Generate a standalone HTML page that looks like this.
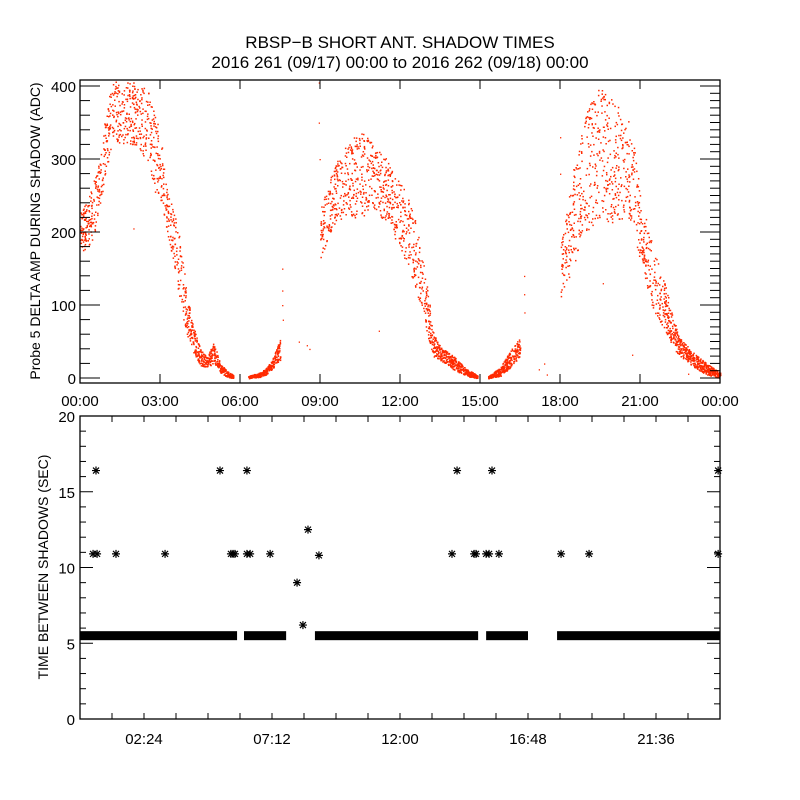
<!DOCTYPE html>
<html><head><meta charset="utf-8"><style>
html,body{margin:0;padding:0;background:#fff;}
svg{display:block;font-family:"Liberation Sans",sans-serif;}
text{fill:#000;}
</style></head><body>
<svg id="chart" width="800" height="800" viewBox="0 0 800 800">
<text x="400" y="48" font-size="17" text-anchor="middle">RBSP−B SHORT ANT. SHADOW TIMES</text>
<text x="400" y="68" font-size="17" text-anchor="middle">2016 261 (09/17) 00:00 to 2016 262 (09/18) 00:00</text>
<g id="topPanel"></g>
<g id="botPanel"></g>
<text transform="translate(40,231) rotate(-90)" font-size="14" text-anchor="middle">Probe 5 DELTA AMP DURING SHADOW (ADC)</text>
<text transform="translate(48,567) rotate(-90)" font-size="14" text-anchor="middle">TIME BETWEEN SHADOWS (SEC)</text>
</svg>
<script>
// ---- top panel data: envelope of amplitude scatter (hour, low, high) ----
const ampHours = [0,0.25,0.5,0.75,1.0,1.25,1.5,2.0,2.5,2.75,3.0,3.25,3.5,3.75,4.0,4.25,4.5,4.75,5.0,5.25,5.5,5.75,
 6.3,6.75,7.0,7.25,7.5,
 9.0,9.25,9.5,10.0,10.5,11.0,11.5,12.0,12.5,12.75,13.0,13.25,13.5,14.0,14.5,14.9,
 15.3,15.75,16.0,16.25,16.5,
 18.0,18.25,18.5,18.75,19.0,19.5,20.0,20.5,20.75,21.0,21.5,22.0,22.25,22.5,23.0,23.5,24.0];
const ampLow = [170,180,190,240,290,330,320,320,300,260,240,200,160,100,60,35,18,15,20,8,2,0,
 0,2,5,15,25,
 160,190,210,220,220,230,210,180,130,100,60,30,25,12,3,0,
 0,3,10,20,30,
 110,130,150,190,200,220,210,220,200,160,90,60,40,30,15,5,0];
const ampHigh = [230,240,270,300,380,408,408,408,400,370,340,260,230,190,120,70,40,30,50,20,10,4,
 3,8,15,30,55,
 230,260,290,320,340,320,300,270,230,180,130,60,45,30,12,5,
 3,15,30,45,55,
 180,230,290,330,370,400,380,360,330,250,180,120,80,55,35,20,8];
const segBreaks = [5.75, 7.5, 14.9, 16.5];
const strayHours = [7.58,7.58,7.58,7.6,8.2,8.5,8.6,8.95,8.95,8.98,3.8,2.0,11.2,16.65,16.65,16.66,17.5,17.2,18.0,18.0,19.6,20.7,22.8,17.4];
const strayVals  = [150,120,100,80,50,45,40,405,350,300,160,205,65,140,115,90,5,12,330,280,130,32,6,20];

// ---- bottom panel data ----
const bandStart = [0.0,6.15,8.81,15.23,17.89];
const bandEnd   = [5.89,7.73,14.93,16.8,24.0];
const bandValue = 5.5;
const starHours = [0.60,0.49,0.64,1.35,3.19,5.25,5.66,5.74,5.81,6.26,6.26,6.38,7.13,8.14,8.36,8.55,8.96,13.95,14.14,14.78,14.85,15.23,15.34,15.45,15.71,18.04,19.09,23.93,23.93];
const starVals  = [16.4,10.9,10.9,10.9,10.9,16.4,10.9,10.9,10.9,16.4,10.9,10.9,10.9,9.0,6.2,12.5,10.8,10.9,16.4,10.9,10.9,10.9,10.9,16.4,10.9,10.9,10.9,16.4,10.9];
const topXTicks = ["00:00","03:00","06:00","09:00","12:00","15:00","18:00","21:00","00:00"];
const botXTicks = ["02:24","07:12","12:00","16:48","21:36"];

const NS="http://www.w3.org/2000/svg";
function mk(tag,attrs,parent){const e=document.createElementNS(NS,tag);for(const k in attrs)e.setAttribute(k,attrs[k]);parent.appendChild(e);return e;}
const X0=80,X1=720;
const xs=h=>X0+(h/24)*(X1-X0);
const T_TOP=80,T_BOT=383,ty=v=>378-v*0.73;
const B_TOP=416,B_BOT=719,by=v=>B_BOT-(v/20)*(B_BOT-B_TOP);

const topG=document.getElementById('topPanel'), botG=document.getElementById('botPanel');

let seed=12345;const rnd=()=>{seed=(seed*1103515245+12345)&0x7fffffff;return seed/0x7fffffff;};
const dots=mk('g',{fill:'#ff2a00'},topG);


for(let i=0;i<ampHours.length-1;i++){
  const h0=ampHours[i],h1=ampHours[i+1];
  if(segBreaks.some(b=>Math.abs(b-h0)<1e-6)) continue;
  const w=xs(h1)-xs(h0);
  const spread=(ampHigh[i]+ampHigh[i+1]-ampLow[i]-ampLow[i+1])/2;
  const n=Math.round(w*(spread>60?6.5:9));
  for(let k=0;k<n;k++){
    const f=rnd();const h=h0+f*(h1-h0);
    const lo=ampLow[i]+f*(ampLow[i+1]-ampLow[i]), hi=ampHigh[i]+f*(ampHigh[i+1]-ampHigh[i]);
    const v=lo+rnd()*(hi-lo);
    const y=ty(v); if(y<T_TOP+1) continue;
    const d=mk('rect',{x:xs(h).toFixed(1),y:y.toFixed(1),width:1.5,height:1.5},dots);
    
    
  }
}
for(let i=0;i<strayHours.length;i++){
  const d=mk('rect',{x:xs(strayHours[i]).toFixed(1),y:ty(strayVals[i]).toFixed(1),width:1.3,height:1.3},dots);
  
  
}

const tf=mk('rect',{x:X0,y:T_TOP,width:X1-X0,height:T_BOT-T_TOP,fill:'none',stroke:'#000','stroke-width':1.3},topG);


for(let v=0;v<=400;v+=10){
  const y=ty(v); const maj=v%100===0;
  if(v%20===0) mk('line',{x1:X0,x2:X0+(maj?20:10),y1:y,y2:y,stroke:'#000'},topG);
  mk('line',{x1:X1,x2:X1-(maj?20:10),y1:y,y2:y,stroke:'#000'},topG);
  if(maj){const t=mk('text',{x:X0-4,y:y+6,'font-size':15,'text-anchor':'end'},topG);t.textContent=v;
    }
}
for(let i=0;i<topXTicks.length;i++){
  const x=xs(i*3);
  mk('line',{x1:x,x2:x,y1:T_BOT,y2:T_BOT-9,stroke:'#000'},topG);
  mk('line',{x1:x,x2:x,y1:T_TOP,y2:T_TOP+9,stroke:'#000'},topG);
  const t=mk('text',{x:x,y:406,'font-size':15,'text-anchor':'middle'},topG);t.textContent=topXTicks[i];
  
}

function star(x,y,g){
  const p=`M${x-4},${y}H${x+4}M${x},${y-4}V${y+4}M${x-3},${y-3}L${x+3},${y+3}M${x-3},${y+3}L${x+3},${y-3}`;
  return mk('path',{d:p,stroke:'#000','stroke-width':1.2,fill:'none'},g);
}
for(let i=0;i<bandStart.length;i++){
  const r=mk('rect',{x:xs(bandStart[i]),y:by(bandValue)-4.5,width:xs(bandEnd[i])-xs(bandStart[i]),height:9,fill:'#000'},botG);
  
  
}
for(let i=0;i<starHours.length;i++){
  const s=star(xs(starHours[i]),by(starVals[i]),botG);
  
  
}
const bf=mk('rect',{x:X0,y:B_TOP,width:X1-X0,height:B_BOT-B_TOP,fill:'none',stroke:'#000','stroke-width':1.3},botG);


for(let v=0;v<=20;v++){
  const y=by(v),maj=v%5===0;
  mk('line',{x1:X0,x2:X0+(maj?13:6),y1:y,y2:y,stroke:'#000'},botG);
  mk('line',{x1:X1,x2:X1-(maj?13:6),y1:y,y2:y,stroke:'#000'},botG);
  if(maj){const t=mk('text',{x:X0-5,y:y+6,'font-size':15,'text-anchor':'end','fill':'#222'},botG);t.textContent=v;
    }
}
for(let k=1;k<20;k++){
  const x=X0+k*32;
  mk('line',{x1:x,x2:x,y1:B_BOT,y2:B_BOT-6,stroke:'#000'},botG);
  mk('line',{x1:x,x2:x,y1:B_TOP,y2:B_TOP+6,stroke:'#000'},botG);
}
for(let i=0;i<botXTicks.length;i++){
  const t=mk('text',{x:X0+64+i*128,y:744,'font-size':15,'text-anchor':'middle','fill':'#222'},botG);t.textContent=botXTicks[i];
  
}
</script>
</body></html>
